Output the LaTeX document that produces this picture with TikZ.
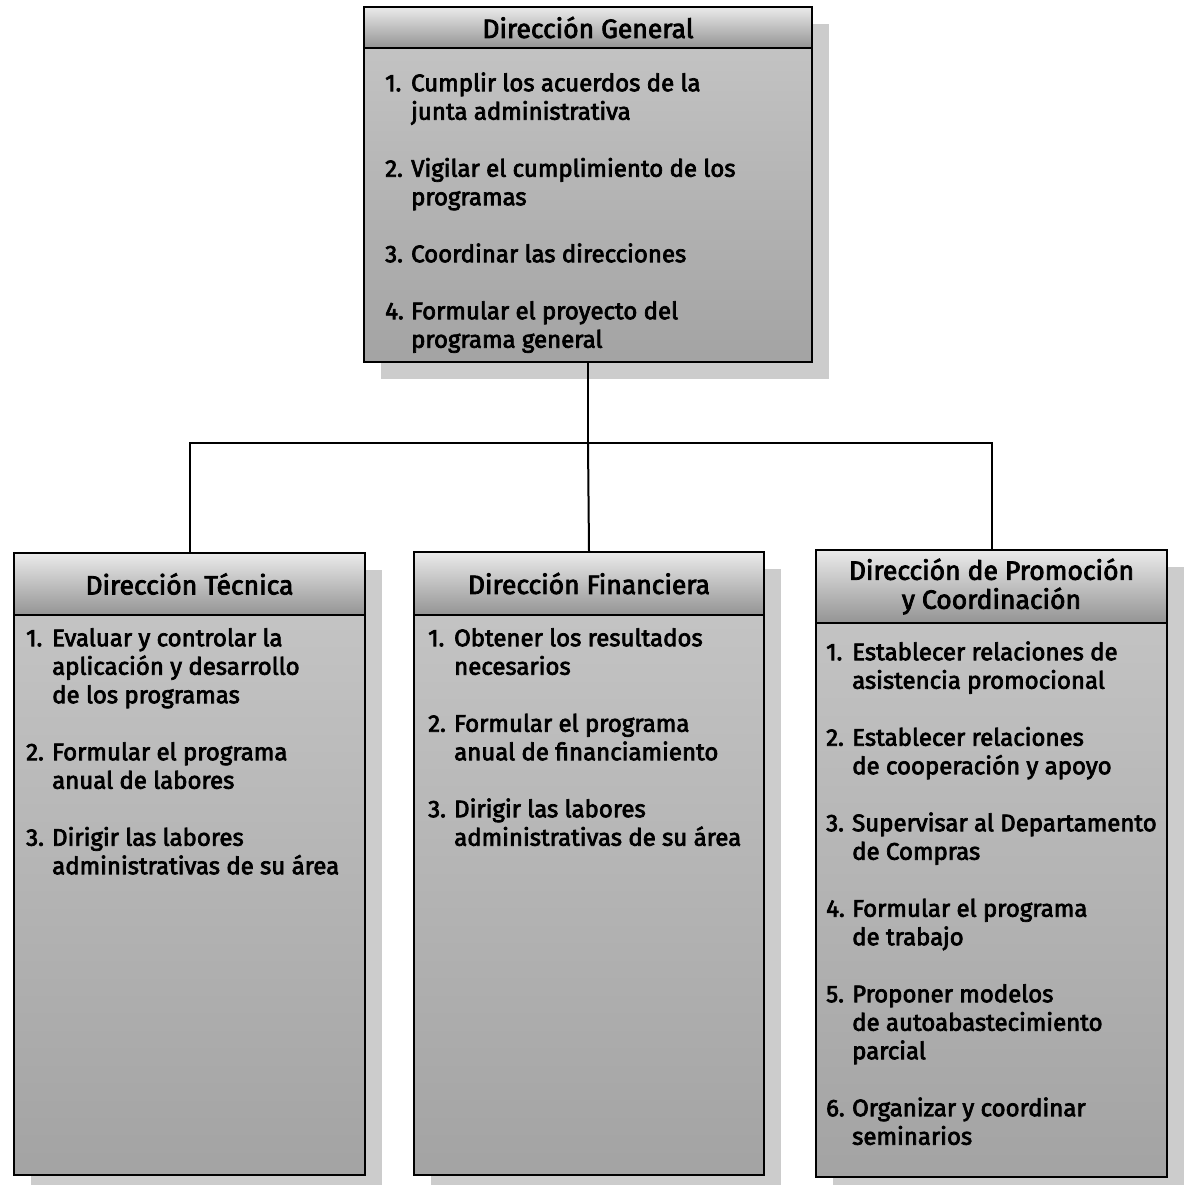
\documentclass[tikz,border=0pt]{standalone}
\usepackage{fontspec}
\newfontfamily\orgfont[RawFeature={embolden=3}]{Fira Sans}
\usetikzlibrary{shadows}

\newcommand\numlab[1]{\rule{0pt}{20pt}\makebox[26pt][l]{#1}}
\newcommand\cont{\hspace*{26pt}}

\tikzset{
  box/.style={draw=black, line width=1.3pt, inner sep=0pt, rectangle,
    top color=black!22, middle color=black!13, bottom color=black!36,
    drop shadow={shadow xshift=17pt, shadow yshift=-17pt, fill=black!20, opacity=1}},
  head/.style={draw=black, line width=1.3pt, inner sep=0pt, rectangle,
    top color=black!8, bottom color=black!42, align=center,
    font=\orgfont\fontsize{26.5}{29}\selectfont},
  items/.style={anchor=north west, inner sep=0pt, align=left,
    font=\orgfont\fontsize{24}{28.5}\selectfont},
  link/.style={line width=2pt, draw=black}
}

\begin{document}
\begin{tikzpicture}[x=1pt, y=-1pt]
\useasboundingbox (0,0) rectangle (1190,1184);

% boxes
\node[box, minimum width=448pt, minimum height=355pt] (dg) at (588,184.5) {};
\node[box, minimum width=351pt, minimum height=622pt] (dt) at (189.5,864) {};
\node[box, minimum width=350pt, minimum height=623pt] (df) at (589,863.5) {};
\node[box, minimum width=351pt, minimum height=627pt] (dp) at (991.5,863.5) {};

% header bands
\node[head, anchor=north, minimum width=448pt, minimum height=41pt] (dg-h) at (dg.north) {Dirección General};
\node[head, anchor=north, minimum width=351pt, minimum height=62pt] (dt-h) at (dt.north) {Dirección Técnica};
\node[head, anchor=north, minimum width=350pt, minimum height=63pt] (df-h) at (df.north) {Dirección Financiera};
\node[head, anchor=north, minimum width=351pt, minimum height=73pt] (dp-h) at (dp.north) {Dirección de Promoción\\y Coordinación};

% functions (first baseline lies 20pt below each anchor)
\node[items] (dg-t) at (385,71) {%
\numlab{1.}Cumplir los acuerdos de la\\\cont junta administrativa\\[28.5pt]
\numlab{2.}Vigilar el cumplimiento de los\\\cont programas\\[28.5pt]
\numlab{3.}Coordinar las direcciones\\[28.5pt]
\numlab{4.}Formular el proyecto del\\\cont programa general};

\node[items] (dt-t) at (26,626) {%
\numlab{1.}Evaluar y controlar la\\\cont aplicación y desarrollo\\\cont de los programas\\[28.5pt]
\numlab{2.}Formular el programa\\\cont anual de labores\\[28.5pt]
\numlab{3.}Dirigir las labores\\\cont administrativas de su área};

\node[items] (df-t) at (428,626) {%
\numlab{1.}Obtener los resultados\\\cont necesarios\\[28.5pt]
\numlab{2.}Formular el programa\\\cont anual de financiamiento\\[28.5pt]
\numlab{3.}Dirigir las labores\\\cont administrativas de su área};

\node[items] (dp-t) at (826,640) {%
\numlab{1.}Establecer relaciones de\\\cont asistencia promocional\\[28.5pt]
\numlab{2.}Establecer relaciones\\\cont de cooperación y apoyo\\[28.5pt]
\numlab{3.}Supervisar al Departamento\\\cont de Compras\\[28.5pt]
\numlab{4.}Formular el programa\\\cont de trabajo\\[28.5pt]
\numlab{5.}Proponer modelos\\\cont de autoabastecimiento\\\cont parcial\\[28.5pt]
\numlab{6.}Organizar y coordinar\\\cont seminarios};

% connectors
\coordinate (bus) at (dg.south |- 0,443);
\draw[link] (dg.south) -- (bus);
\draw[link] (dt-h.north) |- (bus) -| (dp-h.north);
\draw[link] (bus) -- (df-h.north);
\end{tikzpicture}
\end{document}
